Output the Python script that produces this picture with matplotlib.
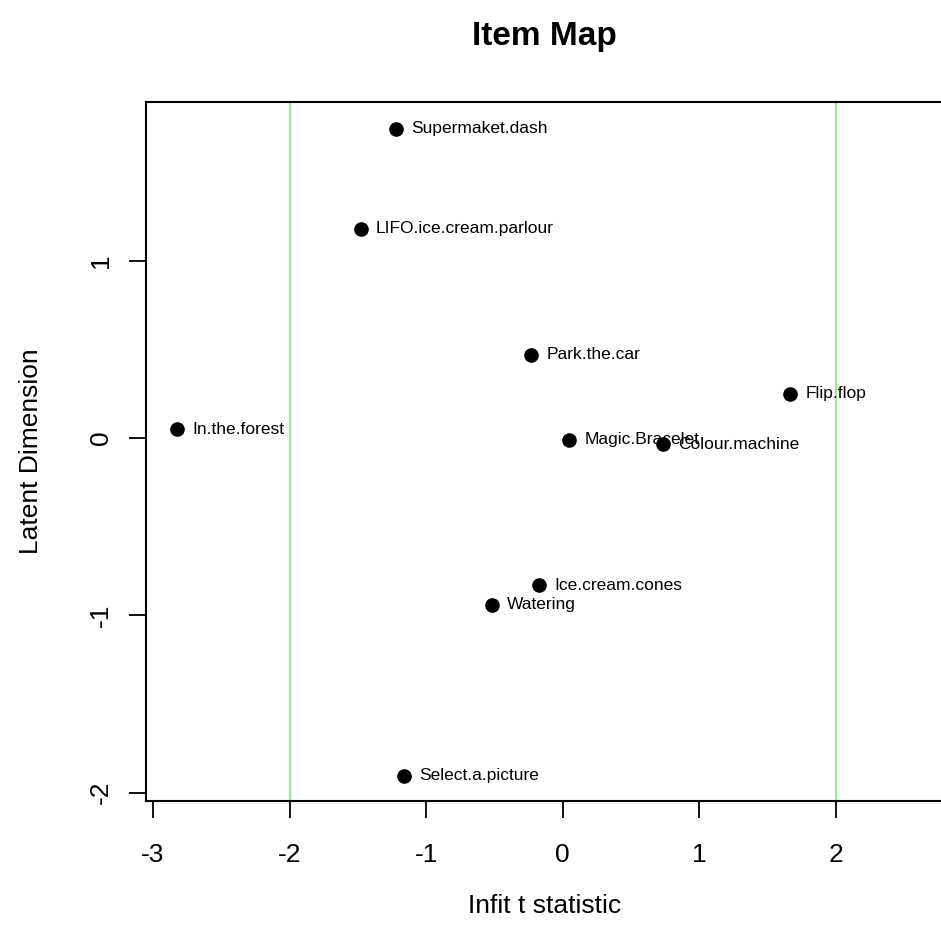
import matplotlib
matplotlib.use('Agg')
import matplotlib.pyplot as plt

plt.rcParams['font.family'] = ['Liberation Sans', 'DejaVu Sans']

# item names, infit t statistic and latent dimension
items = ['Supermaket.dash', 'LIFO.ice.cream.parlour', 'Park.the.car', 'Flip.flop',
         'In.the.forest', 'Magic.Bracelet', 'Colour.machine', 'Ice.cream.cones',
         'Watering', 'Select.a.picture']
infit = [-1.22, -1.48, -0.23, 1.665, -2.825, 0.045, 0.73, -0.175, -0.52, -1.165]
latent = [1.743, 1.18, 0.47, 0.25, 0.05, -0.01, -0.035, -0.83, -0.94, -1.905]
bounds = [-2, 2]

fig = plt.figure(figsize=(9.41, 9.40), dpi=100)
ax = fig.add_axes([0.1552, 0.1479, 0.848, 0.7436])

ax.plot(infit, latent, 'o', color='black', markersize=9.5, zorder=3)
for name, x, y in zip(items, infit, latent):
    ax.annotate(name, (x, y), xytext=(11, 0), textcoords='offset points',
                va='center', ha='left', fontsize=12.5, zorder=4)
for b in bounds:
    ax.axvline(b, color='#90EE90', lw=1.5, zorder=1)

ax.set_xlim(-3.05, 2.79)
ax.set_ylim(-2.047, 1.895)
ax.set_xticks([-3, -2, -1, 0, 1, 2])
ax.set_yticks([-2, -1, 0, 1])
ax.set_xticklabels(['-3', '-2', '-1', '0', '1', '2'])
ax.set_yticklabels(['-2', '-1', '0', '1'], rotation=90, va='center')
ax.tick_params(length=12, width=1.3, labelsize=19)
ax.tick_params(axis='x', pad=18)
ax.tick_params(axis='y', pad=12)
for s in ax.spines.values():
    s.set_linewidth(1.5)

ax.set_xlabel('Infit t statistic', fontsize=19, labelpad=20)
ax.set_ylabel('Latent Dimension', fontsize=19, labelpad=33)
fig.text(0.579, 0.961, 'Item Map', ha='center', va='center', fontsize=24, fontweight='bold')

fig.savefig('out.png', dpi=100)
